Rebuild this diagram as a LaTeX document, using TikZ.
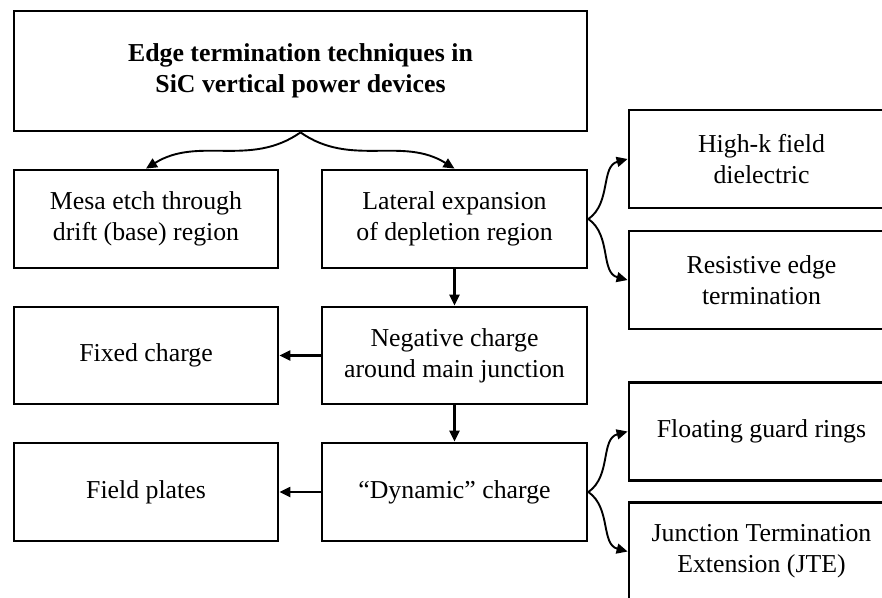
\documentclass[tikz,border=0pt]{standalone}
\usepackage{fontspec}
\setmainfont{Liberation Serif}
\usetikzlibrary{arrows.meta}
\begin{document}
\begin{tikzpicture}[x=1pt,y=1pt,
  box/.style={draw, line width=2.8pt, minimum width=265pt, minimum height=98pt,
    inner sep=0pt, align=center, font=\fontsize{25.8}{31}\selectfont},
  arr/.style={line width=2.2pt, -{Triangle[length=11pt,width=10pt]}},
  carr/.style={line width=1.9pt, -{Triangle[length=11pt,width=10pt]}}]
\useasboundingbox (0,0) rectangle (882,-597);
\clip (0,0) rectangle (882,-597);
\fill[white] (0,0) rectangle (882,-597);

\node[box, minimum width=573pt, minimum height=120pt,
  font=\fontsize{25.8}{31}\selectfont\bfseries] (top) at (300.5,-71)
  {Edge termination techniques in\\SiC vertical power devices};

\node[box, minimum width=264pt] (mesa) at (146,-219) {Mesa etch through\\drift (base) region};
\node[box] (lat) at (454.5,-219) {Lateral expansion\\of depletion region};
\node[box, minimum width=264pt, minimum height=97pt] (fixed) at (146,-355.5) {Fixed charge};
\node[box, minimum height=97pt] (neg) at (454.5,-355.5) {Negative charge\\around main junction};
\node[box, minimum width=264pt] (field) at (146,-492) {Field plates};
\node[box] (dyn) at (454.5,-492) {``Dynamic'' charge};

\node[box] (hk) at (761.5,-159) {High-k field\\dielectric};
\node[box] (res) at (761.5,-280) {Resistive edge\\termination};
\node[box] (flo) at (761.5,-431.5) {Floating guard rings};
\node[box] (jte) at (761.5,-551.5) {Junction Termination\\Extension (JTE)};

\draw[carr] (top.south) to[out=215,in=32] (mesa.north);
\draw[carr] (top.south) to[out=-35,in=148] (lat.north);

\draw[arr] (lat.south) -- (neg.north);
\draw[arr] (neg.south) -- (dyn.north);
\draw[arr] (neg.west) -- (fixed.east);
\draw[arr] (dyn.west) -- (field.east);

\draw[carr] (lat.east) to[out=35,in=195] (hk.west);
\draw[carr] (lat.east) to[out=-35,in=165] (res.west);
\draw[carr] (dyn.east) to[out=35,in=195] (flo.west);
\draw[carr] (dyn.east) to[out=-35,in=165] (jte.west);
\end{tikzpicture}
\end{document}
